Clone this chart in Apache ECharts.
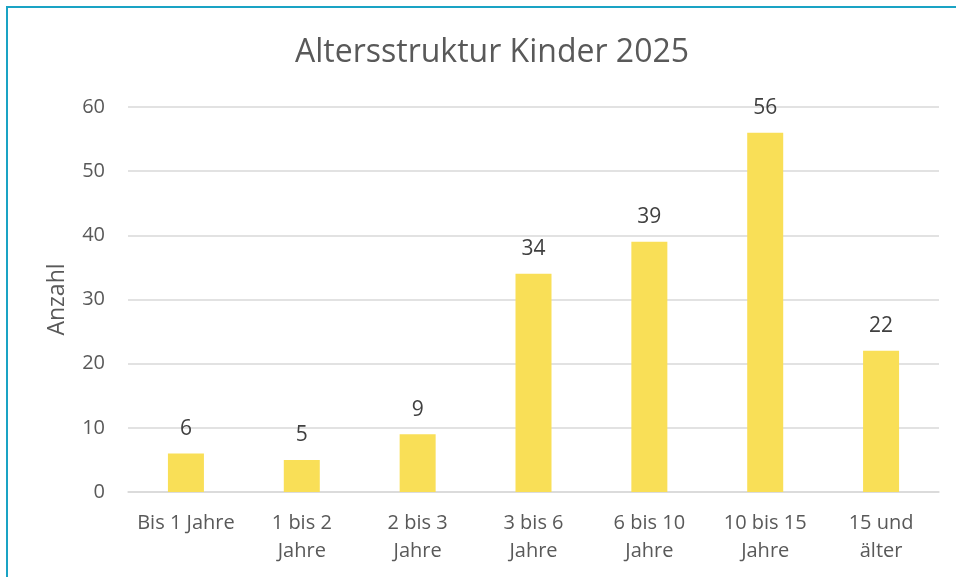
<!DOCTYPE html>
<html>
<head>
<meta charset="utf-8">
<title>Altersstruktur Kinder 2025</title>
<script src="https://cdn.jsdelivr.net/npm/echarts@6/dist/echarts.min.js"></script>
<style>
  html, body { margin: 0; padding: 0; background: #fff; }
  #chart { width: 956px; height: 577px; }
</style>
</head>
<body>
<div id="chart"></div>
<script>
// Daten aus der Grafik
var categories = ['Bis 1 Jahre', '1 bis 2\nJahre', '2 bis 3\nJahre', '3 bis 6\nJahre', '6 bis 10\nJahre', '10 bis 15\nJahre', '15 und\nälter'];
var anzahl = [6, 5, 9, 34, 39, 56, 22];
var yTicks = [0, 10, 20, 30, 40, 50, 60];

var FONT = '"Open Sans", "DejaVu Sans", sans-serif';

var myChart = echarts.init(document.getElementById('chart'));
var option = {
    backgroundColor: '#fff',
    animation: false,
    title: {
        text: 'Altersstruktur Kinder 2025',
        left: 487,
        textAlign: 'center',
        top: 32,
        textStyle: {
            fontFamily: FONT,
            fontSize: 32,
            fontWeight: 'normal',
            color: '#595959'
        }
    },
    // Rahmen oben/links
    graphic: [{
        type: 'polyline',
        shape: { points: [[7, 577], [7, 7], [956, 7]] },
        style: { stroke: '#1aa3c4', lineWidth: 2, fill: null },
        silent: true
    }],
    grid: {
        left: 128,
        right: 17,
        top: 107,
        bottom: 85
    },
    xAxis: {
        type: 'category',
        data: categories,
        axisLine: { show: true, lineStyle: { color: '#d9d9d9', width: 1.5 } },
        axisTick: { show: false },
        axisLabel: {
            interval: 0,
            margin: 17,
            fontFamily: FONT,
            fontSize: 20,
            lineHeight: 28,
            color: '#595959'
        }
    },
    yAxis: {
        type: 'value',
        min: yTicks[0],
        max: yTicks[yTicks.length - 1],
        interval: 10,
        name: 'Anzahl',
        nameLocation: 'middle',
        nameRotate: 90,
        nameGap: 59,
        nameTextStyle: {
            fontFamily: FONT,
            fontSize: 23,
            color: '#595959'
        },
        axisLine: { show: false },
        axisTick: { show: false },
        axisLabel: {
            margin: 23,
            fontFamily: FONT,
            fontSize: 20,
            color: '#595959'
        },
        splitLine: { lineStyle: { color: '#d9d9d9', width: 1.5 } }
    },
    series: [{
        name: 'Anzahl',
        type: 'bar',
        data: anzahl,
        barWidth: 36,
        itemStyle: { color: '#f9df57' },
        label: {
            show: true,
            position: 'top',
            distance: 14,
            fontFamily: FONT,
            fontSize: 21,
            color: '#404040'
        }
    }]
};
myChart.setOption(option);
</script>
</body>
</html>
